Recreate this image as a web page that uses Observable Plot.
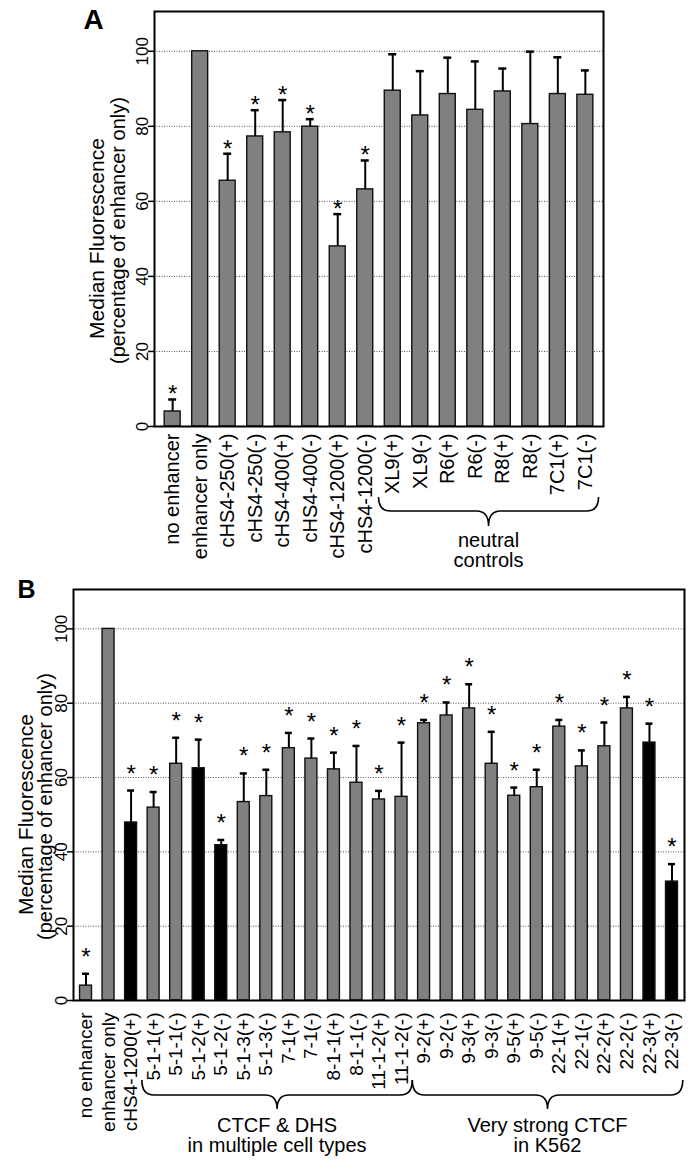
<!DOCTYPE html>
<html><head><meta charset="utf-8">
<script src="https://cdn.jsdelivr.net/npm/d3@7"></script>
<script src="https://cdn.jsdelivr.net/npm/@observablehq/plot@0.6"></script>
<style>
body{margin:0;background:#fff;}
#wrap{width:693px;position:relative;}
#wrap svg{display:block;}
</style></head><body><div id="wrap"></div>
<script>
// ---------- Panel A data ----------
const namesA = ["no enhancer","enhancer only","cHS4-250(+)","cHS4-250(-)","cHS4-400(+)","cHS4-400(-)","cHS4-1200(+)","cHS4-1200(-)","XL9(+)","XL9(-)","R6(+)","R6(-)","R8(+)","R8(-)","7C1(+)","7C1(-)"];
const valuesA = [4.0, 100, 65.5, 77.3, 78.4, 79.9, 48.0, 63.2, 89.5, 82.9, 88.6, 84.4, 89.3, 80.6, 88.6, 88.4];
const errorsA = [3.2, 0, 7.2, 7.0, 8.6, 2.0, 8.6, 7.7, 9.7, 11.8, 9.7, 12.9, 6.1, 19.3, 9.8, 6.5];
const starsA  = [1, 0, 1, 1, 1, 1, 1, 1, 0, 0, 0, 0, 0, 0, 0, 0];
const blackA  = [];
const groupsA = [{first: "XL9(+)", last: "7C1(-)", lines: ["neutral", "controls"]}];

// ---------- Panel B data ----------
const namesB = ["no enhancer","enhancer only","cHS4-1200(+)","5-1-1(+)","5-1-1(-)","5-1-2(+)","5-1-2(-)","5-1-3(+)","5-1-3(-)","7-1(+)","7-1(-)","8-1-1(+)","8-1-1(-)","11-1-2(+)","11-1-2(-)","9-2(+)","9-2(-)","9-3(+)","9-3(-)","9-5(+)","9-5(-)","22-1(+)","22-1(-)","22-2(+)","22-2(-)","22-3(+)","22-3(-)"];
const valuesB = [4.0, 100, 47.9, 51.9, 63.7, 62.5, 41.8, 53.4, 55.0, 67.9, 65.1, 62.2, 58.6, 54.1, 54.8, 74.6, 76.7, 78.6, 63.7, 55.1, 57.4, 73.7, 63.0, 68.4, 78.6, 69.4, 32.0];
const errorsB = [3.2, 0, 8.6, 4.2, 7.0, 7.7, 1.4, 7.7, 7.1, 4.1, 5.4, 4.5, 9.9, 2.3, 14.6, 0.9, 3.5, 6.5, 8.6, 2.2, 4.7, 1.8, 4.3, 6.4, 3.1, 5.1, 4.7];
const starsB  = [1, 0, 1, 1, 1, 1, 1, 1, 1, 1, 1, 1, 1, 1, 1, 1, 1, 1, 1, 1, 1, 1, 1, 1, 1, 1, 1];
const blackB  = ["cHS4-1200(+)", "5-1-2(+)", "5-1-2(-)", "22-3(+)", "22-3(-)"];
const groupsB = [
  {first: "5-1-1(+)", last: "11-1-2(-)", lines: ["CTCF & DHS", "in multiple cell types"]},
  {first: "9-2(+)", last: "22-3(-)", lines: ["Very strong CTCF", "in K562"]}
];

// ---------- shared ----------
const yTicks = [0, 20, 40, 60, 80, 100];
const yGrid = [20, 40, 60, 80, 100];
const yTitle1 = "Median Fluorescence";
const yTitle2 = "(percentage of enhancer only)";

const FONT = "'Liberation Sans', Arial, Helvetica, sans-serif";

function rows(names, values, errors, stars, blacks) {
  return names.map((n, i) => ({
    name: n, value: values[i], err: errors[i], top: values[i] + errors[i],
    star: !!stars[i], black: blacks.includes(n)
  }));
}

function panel(cfg) {
  const data = rows(cfg.names, cfg.values, cfg.errors, cfg.stars, cfg.blacks);
  const withErr = data.filter(d => d.err > 0);
  const starred = data.filter(d => d.star);
  const plot = Plot.plot({
    width: 693, height: cfg.height,
    marginTop: cfg.mt, marginBottom: cfg.mb, marginLeft: cfg.ml, marginRight: cfg.mr,
    style: {fontFamily: FONT, background: "white", color: "black", overflow: "visible"},
    x: {domain: cfg.names, paddingInner: cfg.pin, paddingOuter: cfg.pout, round: false, axis: null},
    y: {domain: [0, 110.6], axis: null},
    marks: [
      Plot.ruleY(yGrid, {stroke: "#555", strokeWidth: 1, strokeDasharray: "1,1.5"}),
      Plot.axisY({ticks: yTicks, tickSize: 6, tickFormat: () => "", label: null, strokeWidth: 1.5}),
      Plot.barY(data, {x: "name", y: "value", fill: d => d.black ? "#000" : "#808080", stroke: "#111", strokeWidth: 1.4}),
      Plot.ruleX(withErr, {x: "name", y1: "value", y2: "top", stroke: "#000", strokeWidth: 2}),
      Plot.tickY(withErr, {x: "name", y: "top", stroke: "#000", strokeWidth: 2.5, insetLeft: cfg.capInset, insetRight: cfg.capInset}),
      Plot.text(starred, {x: "name", y: "top", text: () => "*", lineAnchor: "bottom", dy: cfg.starDy, fontSize: 24}),
      Plot.frame({stroke: "#000", strokeWidth: 2}),
      Plot.text(data, {x: "name", text: "name", frameAnchor: "bottom", dy: cfg.labelGap, rotate: -90, textAnchor: "end", lineAnchor: "middle", fontSize: cfg.tickFont}),
      Plot.text(yTicks, {y: d => d, text: d => String(d), frameAnchor: "left", dx: -6.5, rotate: -90, textAnchor: "middle", lineAnchor: "bottom", fontSize: 17}),
      Plot.text([yTitle1], {text: d => d, frameAnchor: "left", dx: cfg.t1dx, dy: 19.5, rotate: -90, textAnchor: "middle", lineAnchor: "middle", fontSize: 21}),
      Plot.text([yTitle2], {text: d => d, frameAnchor: "left", dx: cfg.t2dx, dy: 11.5, rotate: -90, textAnchor: "middle", lineAnchor: "middle", fontSize: 20}),
      Plot.text([cfg.letter], {text: d => d, frameAnchor: "top-left", dx: cfg.ldx, dy: cfg.ldy, textAnchor: "start", lineAnchor: "bottom", fontSize: cfg.lsize, fontWeight: "bold"})
    ]
  });

  // braces + group labels, positioned with the plot's own x scale
  const sx = plot.scale("x");
  let f, bw, step;
  if (typeof sx.apply === "function") {
    f = sx.apply; bw = sx.bandwidth; step = sx.step;
  } else {
    const s = d3.scaleBand(sx.domain, sx.range).paddingInner(cfg.pin).paddingOuter(cfg.pout).align(0.5);
    f = s; bw = s.bandwidth(); step = s.step();
  }
  const bottom = cfg.height - cfg.mb;
  const svg = d3.select(plot);
  const r = 12;
  for (const g of cfg.groups) {
    const x0 = f(g.first) - (step - bw) / 2;
    const x1 = f(g.last) + bw + (step - bw) / 2;
    const xc = (x0 + x1) / 2;
    const yT = bottom + cfg.bTop, yM = bottom + cfg.bMid, yB = bottom + cfg.bTip;
    const d = `M${x0},${yT} Q${x0},${yM} ${x0 + r},${yM} L${xc - r},${yM} Q${xc},${yM} ${xc},${yB} Q${xc},${yM} ${xc + r},${yM} L${x1 - r},${yM} Q${x1},${yM} ${x1},${yT}`;
    svg.append("path").attr("d", d).attr("fill", "none").attr("stroke", "#000").attr("stroke-width", 1.6);
    g.lines.forEach((t, i) => {
      svg.append("text").attr("x", xc).attr("y", bottom + cfg.tBase + i * cfg.tStep)
        .attr("text-anchor", "middle").attr("font-size", 20).attr("font-family", FONT)
        .attr("fill", "#000").text(t);
    });
  }
  return plot;
}

const wrap = document.getElementById("wrap");
wrap.appendChild(panel({
  names: namesA, values: valuesA, errors: errorsA, stars: starsA, blacks: blackA, groups: groupsA,
  height: 580, mt: 11, mb: 154, ml: 154, mr: 90, pin: 0.42, pout: 0.37,
  capInset: 4, starDy: 3, labelGap: 7, tickFont: 20,
  t1dx: -57, t2dx: -36, letter: "A", ldx: -71, ldy: 17, lsize: 28,
  bTop: 71, bMid: 85, bTip: 100, tBase: 121, tStep: 20
}));
wrap.appendChild(panel({
  names: namesB, values: valuesB, errors: errorsB, stars: starsB, blacks: blackB, groups: groupsB,
  height: 582, mt: 9, mb: 162, ml: 73, mr: 9, pin: 0.47, pout: 0.29,
  capInset: 2.5, starDy: -9, labelGap: 12, tickFont: 19,
  t1dx: -47, t2dx: -28, letter: "B", ldx: -56, ldy: 8, lsize: 25,
  bTop: 80, bMid: 95, bTip: 109, tBase: 132, tStep: 20
}));
</script></body></html>
